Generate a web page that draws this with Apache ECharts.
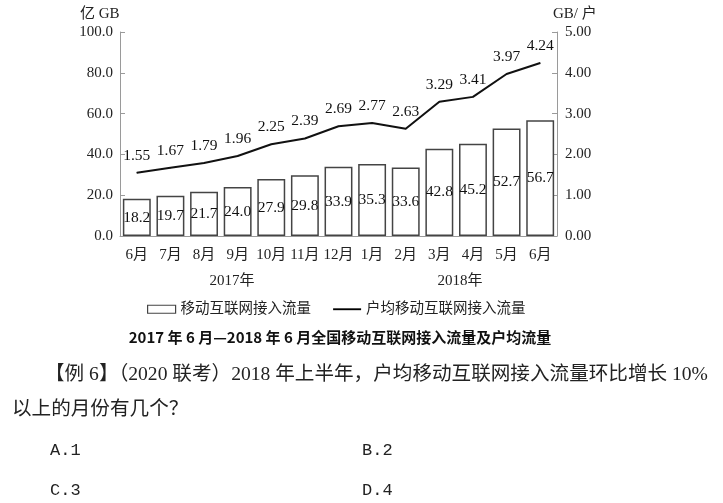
<!DOCTYPE html>
<html><head><meta charset="utf-8">
<script src="https://cdn.jsdelivr.net/npm/echarts@6/dist/echarts.min.js"></script>
<style>html,body{margin:0;padding:0;background:#fff;}#c{width:723px;height:503px;}</style>
</head><body><div id="c"></div>
<script>
const months = ['6月','7月','8月','9月','10月','11月','12月','1月','2月','3月','4月','5月','6月'];
const traffic = [18.2,19.7,21.7,24.0,27.9,29.8,33.9,35.3,33.6,42.8,45.2,52.7,56.7];
const perUser = [1.55,1.67,1.79,1.96,2.25,2.39,2.69,2.77,2.63,3.29,3.41,3.97,4.24];
const seriesNames = ['移动互联网接入流量','户均移动互联网接入流量'];
const yearLabels = ['2017年','2018年'];
const leftTicks = [0,20,40,60,80,100];
const rightTicks = [0,1,2,3,4,5];

const SERIF = '"Liberation Serif","Noto Sans CJK SC",serif';
const CJK = '"Liberation Serif","Noto Sans CJK SC",sans-serif';
const chart = echarts.init(document.getElementById('c'), null, {renderer:'canvas'});
const axisGray = '#9a9a9a';
chart.setOption({
  animation:false,
  backgroundColor:'#fff',
  grid:{left:120, right:166, top:32, bottom:267},
  legend:{
    left:142, top:297, itemWidth:28, itemHeight:8, itemGap:22,
    textStyle:{fontFamily:CJK, fontSize:14.5, color:'#222'},
    data:[
      {name:seriesNames[0], icon:'rect', itemStyle:{color:'#fff', borderColor:'#444', borderWidth:1.2}},
      {name:seriesNames[1], icon:'path://M0,0L30,0L30,2L0,2Z', itemStyle:{color:'#000', borderWidth:0}}
    ]
  },
  xAxis:{
    type:'category', data:months,
    axisLine:{lineStyle:{color:axisGray, width:1}},
    axisTick:{inside:true, length:3, lineStyle:{color:axisGray}},
    axisLabel:{fontFamily:SERIF, fontSize:15, color:'#222', margin:12, interval:0}
  },
  yAxis:[
    {type:'value', min:leftTicks[0], max:leftTicks[leftTicks.length-1], interval:20,
     splitLine:{show:false},
     axisLine:{show:true, lineStyle:{color:axisGray}},
     axisTick:{show:true, inside:true, length:5, lineStyle:{color:axisGray}},
     axisLabel:{fontFamily:SERIF, fontSize:15, color:'#222', margin:7, formatter:v=>v.toFixed(1)}},
    {type:'value', min:rightTicks[0], max:rightTicks[rightTicks.length-1], interval:1,
     splitLine:{show:false},
     axisLine:{show:true, lineStyle:{color:axisGray}},
     axisTick:{show:true, inside:true, length:5, lineStyle:{color:axisGray}},
     axisLabel:{fontFamily:SERIF, fontSize:15, color:'#222', margin:8, formatter:v=>v.toFixed(2)}}
  ],
  series:[
    {name:seriesNames[0], type:'bar', data:traffic, yAxisIndex:0, barCategoryGap:'17%',
     itemStyle:{color:'#fff', borderColor:'#444', borderWidth:1.5},
     label:{show:true, position:'inside', fontFamily:SERIF, fontSize:15.5, color:'#111',
            formatter:p=>p.value.toFixed(1)}},
    {name:seriesNames[1], type:'line', data:perUser, yAxisIndex:1, symbol:'circle', symbolSize:1, showSymbol:true,
     lineStyle:{color:'#111', width:2}, itemStyle:{color:'#111'},
     label:{show:true, position:'top', distance:9, fontFamily:SERIF, fontSize:15.5, color:'#111',
            formatter:p=>p.value.toFixed(2)}}
  ],
  graphic:[
    {type:'text', left:80, top:7, style:{text:'亿 GB', font:'15px '+CJK, fill:'#222'}},
    {type:'text', left:553, top:7, style:{text:'GB/ 户', font:'15px '+CJK, fill:'#222'}},
    {type:'text', x:232, y:281, style:{text:yearLabels[0], font:'15px '+CJK, fill:'#222', align:'center', verticalAlign:'middle'}},
    {type:'text', x:460, y:281, style:{text:yearLabels[1], font:'15px '+CJK, fill:'#222', align:'center', verticalAlign:'middle'}},
    {type:'text', x:340, y:337, style:{text:'2017 年 6 月—2018 年 6 月全国移动互联网接入流量及户均流量', font:'bold 15px "Noto Sans CJK SC",sans-serif', fill:'#111', align:'center', verticalAlign:'middle'}},
    {type:'text', x:45, y:375, style:{text:'【例 6】（2020 联考）2018 年上半年，户均移动互联网接入流量环比增长 10%', font:'19.6px '+CJK, fill:'#222', verticalAlign:'middle'}},
    {type:'text', x:12, y:410, style:{text:'以上的月份有几个？', font:'19.6px '+CJK, fill:'#222', verticalAlign:'middle'}},
    {type:'text', x:50, y:450, style:{text:'A.1', font:'17px "Liberation Mono",monospace', fill:'#222', verticalAlign:'middle'}},
    {type:'text', x:362, y:450, style:{text:'B.2', font:'17px "Liberation Mono",monospace', fill:'#222', verticalAlign:'middle'}},
    {type:'text', x:50, y:490, style:{text:'C.3', font:'17px "Liberation Mono",monospace', fill:'#222', verticalAlign:'middle'}},
    {type:'text', x:362, y:490, style:{text:'D.4', font:'17px "Liberation Mono",monospace', fill:'#222', verticalAlign:'middle'}}
  ]
});
</script></body></html>
